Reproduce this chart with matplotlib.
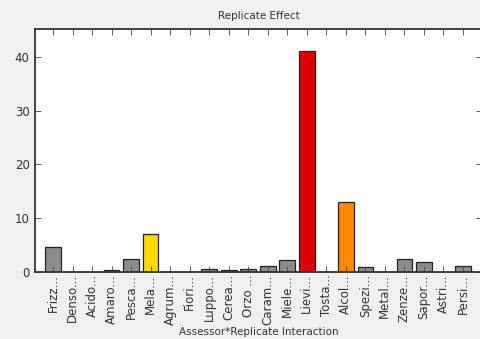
import matplotlib

matplotlib.use("Agg")
import matplotlib.pyplot as plt

# attribute names (truncated as shown on the axis) and their F values
attributes = ["Frizz", "Denso", "Acido", "Amaro", "Pesca", "Mela", "Agrum",
              "Fiori", "Luppo", "Cerea", "Orzo ", "Caram", "Miele", "Lievi",
              "Tosta", "Alcol", "Spezi", "Metal", "Zenze", "Sapor", "Astri",
              "Persi"]
values = [4.6, 0.0, 0.0, 0.25, 2.4, 7.0, 0.0, 0.0, 0.5, 0.25, 0.5, 1.0,
          2.1, 41.2, 0.0, 13.0, 0.8, 0.0, 2.4, 1.7, 0.0, 1.0]
highlight = {"Mela": "#FFD800", "Lievi": "#E00000", "Alcol": "#FF8800"}

labels = [a + "..." for a in attributes]
colors = [highlight.get(a, "#8C8C8C") for a in attributes]

fig = plt.figure(figsize=(4.81, 3.39), dpi=100)
fig.patch.set_facecolor("#F0F0F0")
ax = fig.add_axes([0.073, 0.199, 0.93, 0.716])
ax.set_facecolor("white")

x = range(len(values))
ax.bar(x, values, width=0.8, color=colors, edgecolor="#222222",
       linewidth=0.9, zorder=1)

ax.set_xlim(-0.92, 22.0)
ax.set_ylim(0, 45.3)
ax.set_yticks([0, 10, 20, 30, 40])
ax.set_xticks(list(x))
ax.set_xticklabels(labels, rotation=90, fontsize=8.5, color="#333333")
for lbl in ax.get_yticklabels():
    lbl.set_fontsize(8.5)
    lbl.set_color("#333333")

ax.tick_params(direction="in", length=4, width=0.6, color="#444444",
               top=True, right=True, zorder=3)
ax.tick_params(axis="x", pad=2)
ax.tick_params(axis="y", pad=4)
for s in ax.spines.values():
    s.set_linewidth(1.3)
    s.set_color("#333333")

ax.set_title("Replicate Effect", fontsize=7.5, color="#333333", pad=7)
ax.set_xlabel("Assessor*Replicate Interaction", fontsize=7.5, color="#333333",
              va="center")
ax.xaxis.set_label_coords(0.5, -0.248)

fig.savefig("out.png", dpi=100, facecolor=fig.get_facecolor())
